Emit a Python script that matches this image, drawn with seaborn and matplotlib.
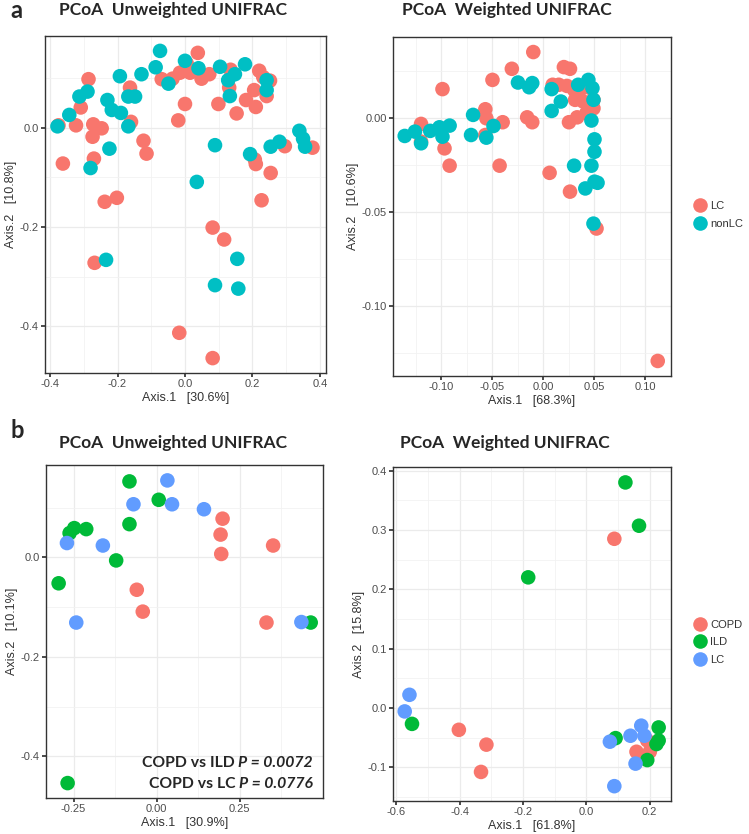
import pandas as pd
import matplotlib.pyplot as plt
import seaborn as sns
from matplotlib.lines import Line2D
from matplotlib.ticker import FixedLocator, FormatStrFormatter

# a: unweighted UNIFRAC, LC vs nonLC
a_uw_lc_x = [-0.375, -0.362, -0.323, -0.309, -0.286, -0.272, -0.274, -0.270, -0.247, -0.268,
             -0.238, -0.202, -0.163, -0.160, -0.123, -0.114, -0.069, -0.037, -0.020, 0.000,
             -0.015, 0.005, 0.015, 0.038, 0.049, 0.072, 0.099, 0.135, 0.131, 0.153,
             0.181, 0.205, 0.210, 0.220, 0.232, 0.252, 0.242, 0.207, 0.210, 0.254,
             0.227, 0.296, 0.378, 0.082, 0.116, -0.017, 0.082]
a_uw_lc_y = [0.005, -0.072, 0.005, 0.041, 0.098, 0.007, -0.018, -0.062, -0.001, -0.272,
             -0.149, -0.141, 0.081, 0.012, -0.026, -0.052, 0.098, 0.099, 0.015, 0.048,
             0.111, 0.130, 0.111, 0.151, 0.099, 0.108, 0.048, 0.117, 0.081, 0.029,
             0.056, 0.076, 0.042, 0.115, 0.102, 0.095, 0.064, -0.064, -0.073, -0.091,
             -0.146, -0.037, -0.040, -0.201, -0.225, -0.413, -0.464]
a_uw_non_x = [-0.378, -0.343, -0.313, -0.289, -0.280, -0.230, -0.217, -0.190, -0.224, -0.193,
              -0.168, -0.148, -0.168, -0.129, -0.087, -0.074, -0.049, 0.000, 0.040, 0.104,
              0.128, 0.148, 0.133, 0.178, 0.089, 0.035, 0.155, 0.089, 0.158, -0.234,
              0.193, 0.242, 0.254, 0.280, 0.339, 0.350, 0.356, 0.242]
a_uw_non_y = [0.003, 0.026, 0.063, 0.073, -0.081, 0.056, 0.036, 0.030, -0.042, 0.104,
              0.063, 0.063, 0.003, 0.108, 0.122, 0.155, 0.089, 0.135, 0.120, 0.123,
              0.096, 0.108, 0.064, 0.128, -0.035, -0.109, -0.264, -0.317, -0.324, -0.266,
              -0.053, 0.096, -0.038, -0.028, -0.006, -0.022, -0.038, 0.076]

# a: weighted UNIFRAC, LC vs nonLC
a_w_lc_x = [-0.010, -0.031, -0.050, -0.099, -0.120, -0.120, -0.097, -0.092, -0.057, -0.056,
            -0.057, -0.040, -0.043, -0.016, -0.011, 0.006, 0.026, 0.020, 0.026, 0.009,
            0.015, 0.023, 0.030, 0.035, 0.031, 0.039, 0.046, 0.049, 0.049, 0.042,
            0.033, 0.025, 0.052, 0.112]
a_w_lc_y = [0.0352, 0.0263, 0.0204, 0.0155, -0.0030, -0.0124, -0.0160, -0.0252, 0.0048, 0.0000,
            -0.0089, -0.0021, -0.0252, 0.0005, -0.0021, -0.0290, -0.0390, 0.0272, 0.0263, 0.0178,
            0.0178, 0.0172, 0.0151, 0.0142, 0.0098, 0.0089, 0.0160, 0.0098, 0.0053, 0.0027,
            0.0005, -0.0021, -0.0586, -0.1290]
a_w_non_x = [-0.136, -0.126, -0.120, -0.111, -0.102, -0.099, -0.092, -0.071, -0.069, -0.056,
             -0.049, -0.025, -0.014, -0.011, 0.008, 0.017, 0.008, 0.034, 0.044, 0.048,
             0.049, 0.047, 0.050, 0.050, 0.030, 0.047, 0.041, 0.050, 0.053, 0.049]
a_w_non_y = [-0.0094, -0.0071, -0.0133, -0.0067, -0.0048, -0.0098, -0.0039, -0.0089, 0.0018, -0.0103,
             -0.0041, 0.0190, 0.0165, 0.0187, 0.0155, 0.0089, 0.0039, 0.0178, 0.0204, 0.0160,
             0.0098, -0.0012, -0.0112, -0.0178, -0.0252, -0.0252, -0.0373, -0.0337, -0.0343, -0.0560]

# b: unweighted UNIFRAC, COPD / ILD / LC
b_uw_copd_x = [0.198, 0.192, 0.194, 0.350, -0.060, -0.042, 0.330]
b_uw_copd_y = [0.078, 0.046, 0.007, 0.024, -0.065, -0.109, -0.131]
b_uw_ild_x = [-0.082, 0.006, -0.082, -0.248, -0.262, -0.212, -0.122, -0.295, 0.463, -0.268]
b_uw_ild_y = [0.153, 0.116, 0.067, 0.059, 0.049, 0.057, -0.006, -0.052, -0.131, -0.454]
b_uw_lc_x = [0.032, -0.070, 0.046, 0.142, -0.270, -0.162, -0.242, 0.435]
b_uw_lc_y = [0.155, 0.107, 0.107, 0.097, 0.029, 0.024, -0.131, -0.130]

# b: weighted UNIFRAC, COPD / ILD / LC
b_w_copd_x = [0.088, -0.403, -0.316, -0.333, 0.158, 0.200, 0.192]
b_w_copd_y = [0.285, -0.037, -0.062, -0.108, -0.074, -0.074, -0.055]
b_w_ild_x = [0.123, 0.166, -0.184, -0.551, 0.092, 0.228, 0.228, 0.221, 0.192]
b_w_ild_y = [0.380, 0.307, 0.220, -0.027, -0.051, -0.033, -0.055, -0.061, -0.088]
b_w_lc_x = [-0.559, -0.574, 0.074, 0.139, 0.173, 0.183, 0.155, 0.088]
b_w_lc_y = [0.022, -0.006, -0.057, -0.047, -0.030, -0.047, -0.094, -0.132]

pal_a = {'LC': '#F8766D', 'nonLC': '#00BFC4'}
pal_b = {'COPD': '#F8766D', 'ILD': '#00BA38', 'LC': '#619CFF'}

sns.set_theme(style='white')
plt.rcParams['font.family'] = ['Liberation Sans', 'DejaVu Sans']
plt.rcParams['axes.unicode_minus'] = False

W, H = 749, 834
fig = plt.figure(figsize=(W / 100, H / 100), dpi=100)


def make_df(groups):
    parts = []
    for name, xs, ys in groups:
        parts.append(pd.DataFrame({'x': xs, 'y': ys, 'group': name}))
    return pd.concat(parts, ignore_index=True)


def add_panel(box, df, palette, xlim, ylim, xticks, yticks, xminor, yminor, xfmt, yfmt, xlabel, ylabel):
    l, t, r, b = box
    ax = fig.add_axes([l / W, 1 - b / H, (r - l) / W, (b - t) / H])
    sns.scatterplot(data=df, x='x', y='y', hue='group', palette=palette, s=110,
                    linewidth=0, alpha=1, legend=False, ax=ax, zorder=3)
    ax.set_xlim(*xlim)
    ax.set_ylim(*ylim)
    ax.xaxis.set_major_locator(FixedLocator(xticks))
    ax.yaxis.set_major_locator(FixedLocator(yticks))
    ax.xaxis.set_minor_locator(FixedLocator(xminor))
    ax.yaxis.set_minor_locator(FixedLocator(yminor))
    ax.xaxis.set_major_formatter(FormatStrFormatter(xfmt))
    ax.yaxis.set_major_formatter(FormatStrFormatter(yfmt))
    ax.grid(which='major', color='#EBEBEB', linewidth=0.9, zorder=0)
    ax.grid(which='minor', color='#F2F2F2', linewidth=0.6, zorder=0)
    ax.set_axisbelow(True)
    ax.tick_params(which='major', length=3, color='#333333', labelsize=8,
                   labelcolor='#4D4D4D', bottom=True, left=True, pad=1.5)
    ax.tick_params(which='minor', length=0)
    for sp in ax.spines.values():
        sp.set_color('#333333')
        sp.set_linewidth(1.0)
    ax.set_xlabel(xlabel, fontsize=9, color='#333333', labelpad=2)
    ax.set_ylabel(ylabel, fontsize=9, color='#333333', labelpad=2)
    return ax


def add_legend(ax, palette, y_center):
    handles = [Line2D([], [], marker='o', linestyle='', markersize=10.5,
                      markerfacecolor=c, markeredgewidth=0) for c in palette.values()]
    ax.legend(handles, list(palette.keys()), loc='center left', bbox_to_anchor=(1.08, y_center),
              frameon=False, fontsize=8, handletextpad=0.35, labelspacing=0.7,
              labelcolor='#333333', borderaxespad=0, handlelength=1.2, borderpad=0)


df_a1 = make_df([('LC', a_uw_lc_x, a_uw_lc_y), ('nonLC', a_uw_non_x, a_uw_non_y)])
df_a2 = make_df([('LC', a_w_lc_x, a_w_lc_y), ('nonLC', a_w_non_x, a_w_non_y)])
df_b1 = make_df([('COPD', b_uw_copd_x, b_uw_copd_y), ('ILD', b_uw_ild_x, b_uw_ild_y),
                 ('LC', b_uw_lc_x, b_uw_lc_y)])
df_b2 = make_df([('COPD', b_w_copd_x, b_w_copd_y), ('ILD', b_w_ild_x, b_w_ild_y),
                 ('LC', b_w_lc_x, b_w_lc_y)])

ax1 = add_panel((45, 36, 326, 373), df_a1, pal_a, (-0.415, 0.418), (-0.494, 0.185),
                [-0.4, -0.2, 0.0, 0.2, 0.4], [0.0, -0.2, -0.4], [-0.3, -0.1, 0.1, 0.3],
                [0.1, -0.1, -0.3], '%.1f', '%.1f', 'Axis.1   [30.6%]', 'Axis.2   [10.8%]')
ax2 = add_panel((393, 37, 671, 376), df_a2, pal_a, (-0.1475, 0.125), (-0.137, 0.0432),
                [-0.10, -0.05, 0.0, 0.05, 0.10], [0.0, -0.05, -0.10],
                [-0.125, -0.075, -0.025, 0.025, 0.075, 0.125], [0.025, -0.025, -0.075, -0.125],
                '%.2f', '%.2f', 'Axis.1   [68.3%]', 'Axis.2   [10.6%]')
ax3 = add_panel((46, 465, 323, 798), df_b1, pal_b, (-0.333, 0.50), (-0.484, 0.186),
                [-0.25, 0.0, 0.25], [0.0, -0.2, -0.4], [-0.125, 0.125, 0.375],
                [0.1, -0.1, -0.3], '%.2f', '%.1f', 'Axis.1   [30.9%]', 'Axis.2   [10.1%]')
ax4 = add_panel((393, 467, 671, 801), df_b2, pal_b, (-0.611, 0.267), (-0.157, 0.406),
                [-0.6, -0.4, -0.2, 0.0, 0.2], [-0.1, 0.0, 0.1, 0.2, 0.3, 0.4],
                [-0.5, -0.3, -0.1, 0.1], [-0.15, -0.05, 0.05, 0.15, 0.25, 0.35],
                '%.1f', '%.1f', 'Axis.1   [61.8%]', 'Axis.2   [15.8%]')

add_legend(ax2, pal_a, 0.475)
add_legend(ax4, pal_b, 0.475)

title_font = ['Lato', 'DejaVu Sans']
for x_px, y_px, title in [(173, 10, 'PCoA  Unweighted UNIFRAC'), (507, 10, 'PCoA  Weighted UNIFRAC'),
                          (173, 443, 'PCoA  Unweighted UNIFRAC'), (505, 443, 'PCoA  Weighted UNIFRAC')]:
    fig.text(x_px / W, 1 - y_px / H, title, ha='center', va='center',
             fontsize=12.5, fontweight='bold', family=title_font)
fig.text(10 / W, 1 - 11 / H, 'a', ha='left', va='center', fontsize=17,
         fontweight='bold', family=title_font)
fig.text(10 / W, 1 - 430 / H, 'b', ha='left', va='center', fontsize=17,
         fontweight='bold', family=title_font)

# p-value annotation: bold label + bold italic P value, right aligned
renderer = fig.canvas.get_renderer()
for y_px, label, pval in [(763, 'COPD vs ILD ', 'P = 0.0072'), (784, 'COPD vs LC ', 'P = 0.0776')]:
    t_it = fig.text(313 / W, 1 - y_px / H, pval, ha='right', va='center', fontsize=11.3,
                    fontweight='bold', fontstyle='italic', family=title_font)
    bb = t_it.get_window_extent(renderer=renderer)
    fig.text(bb.x0 / W, 1 - y_px / H, label, ha='right', va='center', fontsize=11.3,
             fontweight='bold', family=title_font)

fig.savefig('out.png', dpi=100)
plt.close(fig)
